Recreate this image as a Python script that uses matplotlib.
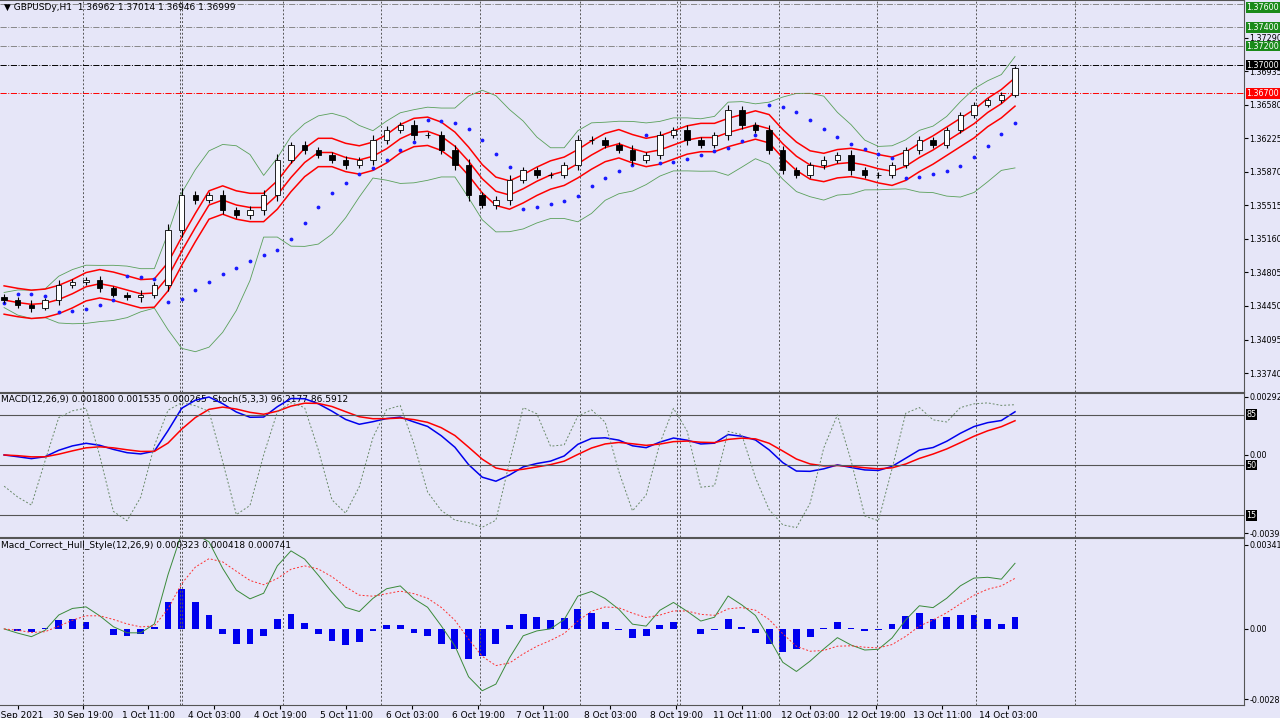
import numpy as np
import matplotlib
matplotlib.use("Agg")
import matplotlib.pyplot as plt

# closes in price (~1 per 15px)
close_y = [300,305,308,300,285,282,280,288,295,297,295,285,230,195,200,195,210,215,210,195,
           160,145,150,155,160,165,160,140,130,125,135,135,150,165,195,205,200,180,170,175,
           175,165,140,140,145,150,160,155,135,130,140,145,135,110,125,130,150,170,175,165,
           160,155,170,175,175,165,150,140,145,130,115,105,100,95,68]
closes = [round(1.37 - (y - 65) * 0.0001 / 0.945, 5) for y in close_y]
wick = [6,5,8,4,9,5,6,7,4,5,9,6,10,12,7,5,8,6,7,9,10,6,8,5,6,7,5,8,7,6,9,5,7,8,10,6,7,8,5,6,
        5,6,9,7,5,6,8,5,7,6,8,5,6,9,7,6,8,7,5,6,7,6,8,5,6,5,6,7,5,6,5,6,4,5,4]
opens = [closes[0] + 0.0003] + closes[:-1]

date_labels = ["0 Sep 2021","30 Sep 19:00","1 Oct 11:00","4 Oct 03:00","4 Oct 19:00","5 Oct 11:00",
               "6 Oct 03:00","6 Oct 19:00","7 Oct 11:00","8 Oct 03:00","8 Oct 19:00","11 Oct 11:00",
               "12 Oct 03:00","12 Oct 19:00","13 Oct 11:00","14 Oct 03:00"]
date_px = [18,83,148,214,280,346,412,478,543,610,676,742,810,876,942,1008]
vline_px = [83,180,182,283,381,480,580,677,680,779,877,976,1075]
hlines = [(1.37650,'#888888'),(1.37400,'#888888'),(1.37200,'#888888'),(1.37000,'#000000'),(1.36700,'#ff0000')]
tags = [("1.37600",'#1a8a1a',1.37610),("1.37400",'#1a8a1a',1.37400),("1.37200",'#1a8a1a',1.37200),
        ("1.37000",'#000000',1.37000),("1.36700",'#ff0000',1.36700)]
price_ticks = [1.36935,1.36580,1.36225,1.35870,1.35515,1.35160,1.34805,1.34450,1.34095,1.33740,1.37290]

c = np.array(closes); o = np.array(opens); n = len(c)
w = np.array(wick) * 0.0001
hi = np.maximum(o, c) + w * 0.6
lo = np.minimum(o, c) - w * 0.6
x = np.arange(n)
PX = 1015 / 74.3
def px(v): return v / PX - 0.3

def sma(a, k):
    return np.array([a[max(0, i - k + 1):i + 1].mean() for i in range(len(a))])
def ema(a, k):
    al = 2 / (k + 1); out = np.zeros(len(a)); out[0] = a[0]
    for i in range(1, len(a)): out[i] = al * a[i] + (1 - al) * out[i - 1]
    return out

mid = sma(c, 4); env = 0.0015
bb_m = sma(c, 8); bb_s = np.array([c[max(0, i - 7):i + 1].std() for i in range(n)])
bb_u = bb_m + 2 * bb_s + 0.0008; bb_l = bb_m - 2 * bb_s - 0.0008
sar = np.zeros(n); up = True; ep = hi[0]; af = 0.04; sar[0] = lo[0]
for i in range(1, n):
    s = sar[i - 1] + af * (ep - sar[i - 1])
    if up:
        if lo[i] < s: up = False; s = ep; ep = lo[i]; af = 0.04
        elif hi[i] > ep: ep = hi[i]; af = min(af + 0.04, 0.3)
    else:
        if hi[i] > s: up = True; s = ep; ep = hi[i]; af = 0.04
        elif lo[i] < ep: ep = lo[i]; af = min(af + 0.04, 0.3)
    sar[i] = s

macd = ema(c, 5) - ema(c, 11); sig = ema(macd, 4)
hh = np.array([hi[max(0, i - 2):i + 1].max() for i in range(n)])
ll = np.array([lo[max(0, i - 2):i + 1].min() for i in range(n)])
st = sma(100 * (c - ll) / (hh - ll + 1e-9), 2)
hull_line = 1.3 * (ema(c, 3) - ema(c, 7)); hull_sig = ema(hull_line, 5); hist = (hull_line - hull_sig) * 0.8

BG = '#e6e6f8'
fig = plt.figure(figsize=(12.8, 7.18), dpi=100, facecolor=BG)
R = 1244 / 1280
def ax_at(top, bot):
    return fig.add_axes([0, 1 - bot / 718, R, (bot - top) / 718], facecolor=BG)
a1 = ax_at(0, 392); a2 = ax_at(393, 537); a3 = ax_at(538, 705)
a2b = a2.twinx(); a2b.set_ylim(0, 100); a2b.axis('off')
for a in (a1, a2, a3):
    a.set_xlim(-0.3, 1244 / PX - 0.3)
    for v in vline_px: a.axvline(px(v), color='#555555', ls=(0, (2, 2)), lw=0.7)
    a.tick_params(axis='y', right=True, left=False, labelright=True, labelleft=False, labelsize=5.8, length=3, pad=1)
    a.tick_params(axis='x', bottom=False, labelbottom=False)
    for s in a.spines.values(): s.set_color('#555555')
    a.spines['left'].set_visible(False)

a1.set_ylim(1.37 - (392 - 65) * 0.0001 / 0.945, 1.37 + 65 * 0.0001 / 0.945)
for yv, col in hlines: a1.axhline(yv, color=col, ls='-.', lw=0.7)
a1.plot(x, bb_u, color='#5aa05a', lw=0.6); a1.plot(x, bb_l, color='#5aa05a', lw=0.6)
a1.plot(x, mid, color='#ff0000', lw=1.1); a1.plot(x, mid + env, color='#ff0000', lw=1.1); a1.plot(x, mid - env, color='#ff0000', lw=1.1)
a1.scatter(x, sar, s=3, color='#1a1aff', zorder=3)
a1.vlines(x, lo, hi, color='black', lw=0.8, zorder=4)
bodyc = ['white' if c[i] >= o[i] else 'black' for i in range(n)]
a1.bar(x, np.maximum(np.abs(c - o), 0.00004), bottom=np.minimum(o, c), width=0.4, color=bodyc, edgecolor='black', lw=0.6, zorder=5)
a1.set_yticks(price_ticks); a1.set_yticklabels([f"{t:.5f}" for t in price_ticks])
for txt, col, yv in tags:
    a1.text(1.002, yv, txt, transform=a1.get_yaxis_transform(), fontsize=5.8, color='white', va='center', ha='left',
            bbox=dict(boxstyle='square,pad=0.1', fc=col, ec='none'), clip_on=False, zorder=10)
a1.text(0.003, 0.993, "▼ GBPUSDy,H1  1.36962 1.37014 1.36946 1.36999", transform=a1.transAxes, fontsize=6.5, va='top')

a2.set_ylim(-0.00413, 0.00312)
a2.plot(x, macd, color='#0000ee', lw=1.1, zorder=4); a2.plot(x, sig, color='#ff0000', lw=1.1, zorder=4)
a2.set_yticks([0.00292, 0.0, -0.00394]); a2.set_yticklabels(["0.002923", "0.00", "-0.00394"])
for lv in (85, 50, 15):
    a2b.axhline(lv, color='#555555', lw=0.8)
    a2b.text(1.002, lv, str(lv), transform=a2b.get_yaxis_transform(), fontsize=5.8, color='white', va='center',
             bbox=dict(boxstyle='square,pad=0.1', fc='black', ec='none'), clip_on=False)
a2b.plot(x, st, color='#6a8a6a', lw=0.7, ls=(0, (2, 2)))
a2.text(0.001, 0.985, "MACD(12,26,9) 0.001800 0.001535 0.000265  Stoch(5,3,3) 96.2177 86.5912", transform=a2.transAxes, fontsize=6.5, va='top')

a3.set_ylim(-0.00309, 0.00369)
a3.bar(x, hist, width=0.5, color='#0000ee')
a3.plot(x, hull_line, color='#3a8a3a', lw=0.7); a3.plot(x, hull_sig, color='#ff3030', lw=0.7, ls=(0, (2, 2)))
a3.set_yticks([0.00341, 0.0, -0.00285]); a3.set_yticklabels(["0.003415", "0.00", "-0.00285"])
a3.text(0.001, 0.985, "Macd_Correct_Hull_Style(12,26,9) 0.000323 0.000418 0.000741", transform=a3.transAxes, fontsize=6.5, va='top')
a3.tick_params(axis='x', bottom=True, labelbottom=True, labelsize=6.5, length=3, pad=1)
a3.set_xticks([px(v) for v in date_px]); a3.set_xticklabels(date_labels)
fig.savefig("out.png", dpi=100, facecolor=BG)
